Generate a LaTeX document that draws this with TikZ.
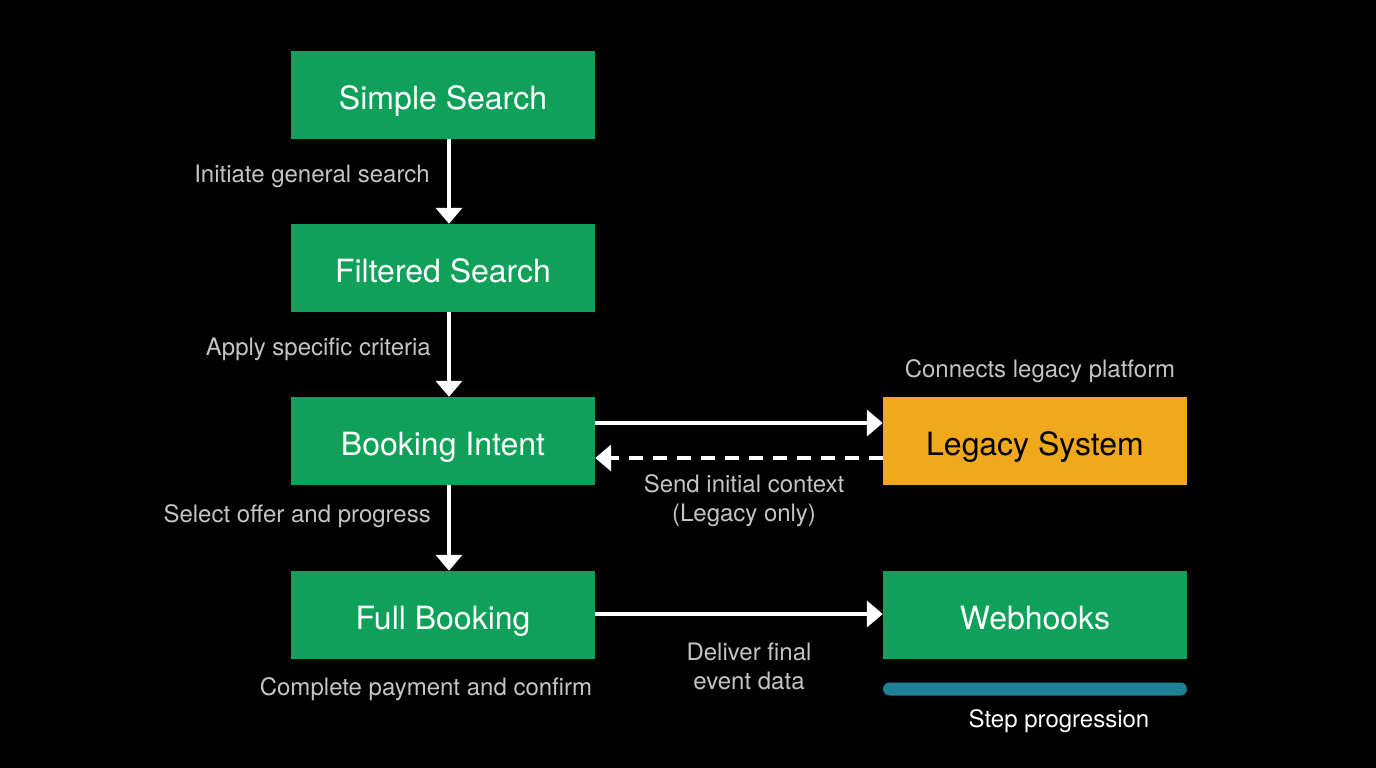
\documentclass[tikz,border=0pt]{standalone}
\usepackage{fontspec}
\setmainfont{TeX Gyre Heros}
\usetikzlibrary{arrows.meta}
\definecolor{grn}{HTML}{0FA15A}
\definecolor{org}{HTML}{F0A81C}
\definecolor{tl}{HTML}{1F7F95}
\definecolor{lbl}{HTML}{C4C4C4}
\begin{document}
\begin{tikzpicture}[x=1pt,y=-1pt,
 box/.style={fill=grn,minimum width=304pt,minimum height=88pt,inner sep=0pt,text=white,text height=28pt,text depth=0pt,font=\fontsize{32}{38}\selectfont},
 lab/.style={text=lbl,font=\fontsize{24}{29}\selectfont,inner sep=0pt,align=center},
 arr/.style={draw=white,line width=4.5pt,-{Triangle[length=16pt,width=26pt]}}]
\fill[black] (0,0) rectangle (1376,768);
\useasboundingbox (0,0) rectangle (1376,768);
\node[box] (s) at (443,95) {Simple Search};
\node[box] (f) at (443,268) {Filtered Search};
\node[box] (b) at (443,441) {Booking Intent};
\node[box] (fb) at (443,615) {Full Booking};
\node[box,fill=org,text=black] (l) at (1035,441) {Legacy System};
\node[box] (w) at (1035,615) {Webhooks};
\node[fill=tl,rounded corners=6.5pt,minimum width=304pt,minimum height=13pt,inner sep=0pt] (bar) at (1035,689) {};
\draw[arr] (s.south -| 449,0) -- (f.north -| 449,0);
\draw[arr] (f.south -| 449,0) -- (b.north -| 449,0);
\draw[arr] (b.south -| 449,0) -- (fb.north -| 449,0);
\draw[arr] (b.east |- 0,423) -- (l.west |- 0,423);
\draw[arr,dash pattern=on 14pt off 10pt] (l.west |- 0,458) -- (b.east |- 0,458);
\draw[arr] (fb.east |- 0,614) -- (w.west |- 0,614);
\node[lab,anchor=east] (t1) at (430,176) {Initiate general search};
\node[lab,anchor=east] (t2) at (431,349) {Apply specific criteria};
\node[lab,anchor=east] (t3) at (431,516) {Select offer and progress};
\node[lab] (t4) at (744,501) {Send initial context\\(Legacy only)};
\node[lab] (t5) at (1040,371) {Connects legacy platform};
\node[lab] (t6) at (749,666) {Deliver final\\event data};
\node[lab] (t7) at (426,689) {Complete payment and confirm};
\node[lab,text=white] (t8) at (1059,721) {Step progression};
\end{tikzpicture}
\end{document}
